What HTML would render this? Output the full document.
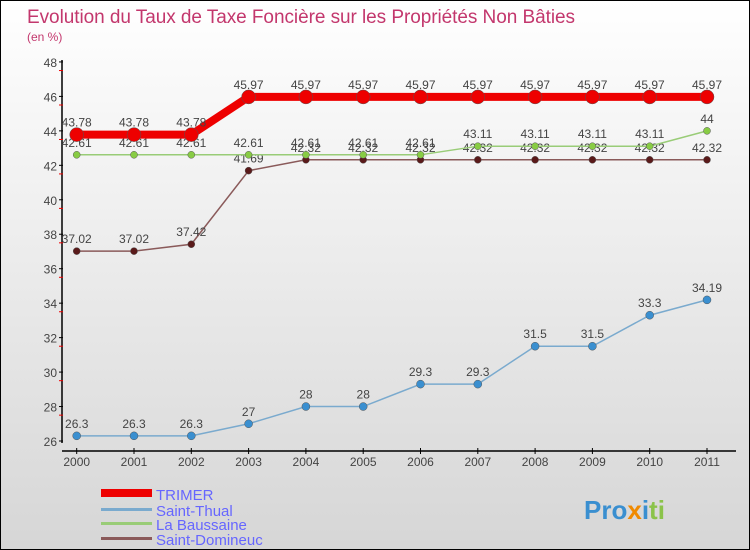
<!DOCTYPE html>
<html><head><meta charset="utf-8"><style>
body{margin:0;}
#c{width:748px;height:548px;border:1px solid #000;position:relative;background:linear-gradient(#fff,#d6d6d6);font-family:"Liberation Sans",sans-serif;overflow:hidden}
</style></head><body>
<div id="c">
<svg id="s" width="748" height="548" xmlns="http://www.w3.org/2000/svg" font-family="Liberation Sans, sans-serif">
<text x="26" y="22" font-size="19" fill="#c3376d" textLength="548">Evolution du Taux de Taxe Foncière sur les Propriétés Non Bâties</text>
<text x="26" y="40" font-size="12" fill="#c3376d">(en %)</text>
<g id="axes"></g><g id="series"></g>
<g>
<rect x="100" y="488" width="51" height="8" fill="#e00"/>
<text x="155" y="499" font-size="15" fill="#66f">TRIMER</text>
<rect x="100" y="507" width="51" height="3" fill="#7aaace"/>
<text x="155" y="515" font-size="15" fill="#66f">Saint-Thual</text>
<rect x="100" y="521" width="51" height="3" fill="#99cc77"/>
<text x="155" y="529" font-size="15" fill="#66f">La Baussaine</text>
<rect x="100" y="536" width="51" height="3" fill="#8a5a5a"/>
<text x="155" y="544" font-size="15" fill="#66f">Saint-Domineuc</text>
</g>
<text x="583" y="518" font-size="26" font-weight="bold"><tspan fill="#3a8fd0">Pro</tspan><tspan fill="#f08a00">x</tspan><tspan fill="#3a8fd0">i</tspan><tspan fill="#8bc34a">ti</tspan></text>
</svg></div>
<script>
const years=[2000,2001,2002,2003,2004,2005,2006,2007,2008,2009,2010,2011];
const trimer=[43.78,43.78,43.78,45.97,45.97,45.97,45.97,45.97,45.97,45.97,45.97,45.97];
const thual=[26.3,26.3,26.3,27,28,28,29.3,29.3,31.5,31.5,33.3,34.19];
const baussaine=[42.61,42.61,42.61,42.61,42.61,42.61,42.61,43.11,43.11,43.11,43.11,44];
const domineuc=[37.02,37.02,37.42,41.69,42.32,42.32,42.32,42.32,42.32,42.32,42.32,42.32];
const yTicks=[26,28,30,32,34,36,38,40,42,44,46,48];
const NS="http://www.w3.org/2000/svg";
const X=i=>75.7+i*57.3, Y=v=>440-(v-26)*17.23;
function mk(t,a,p){const e=document.createElementNS(NS,t);for(const k in a)e.setAttribute(k,a[k]);p.appendChild(e);return e;}
const ax=document.getElementById('axes'), sg=document.getElementById('series');
let e=mk('line',{x1:61,y1:59,x2:61,y2:442,stroke:'#000','stroke-width':1.5},ax);

e=mk('line',{x1:61,y1:450,x2:735,y2:450,stroke:'#000','stroke-width':1.5},ax);

yTicks.forEach(v=>{const y=Y(v);mk('line',{x1:58,y1:y,x2:62,y2:y,stroke:'#000'},ax);
 mk('line',{x1:58,y1:y+8.6,x2:62,y2:y+8.6,stroke:v>26?'#e00':'none'},ax);
 const t=mk('text',{x:56,y:y+5,'font-size':12,'text-anchor':'end',fill:'#444'},ax);t.textContent=v;
 });
years.forEach((yr,i)=>{const x=X(i);mk('line',{x1:x,y1:447,x2:x,y2:453,stroke:'#000'},ax);
 const t=mk('text',{x:x,y:465,'font-size':12,'text-anchor':'middle',fill:'#444'},ax);t.textContent=yr;
 });
function series(d,name,col,w,r,fill){const g=mk('g',{},sg);
 
 mk('polyline',{points:d.map((v,i)=>X(i)+','+Y(v)).join(' '),fill:'none',stroke:col,'stroke-width':w},g);
 d.forEach((v,i)=>{const c=mk('circle',{cx:X(i),cy:Y(v),r:r,fill:fill,stroke:'#555','stroke-width':0.5},g);
  
  const t=mk('text',{x:X(i),y:Y(v)-8,'font-size':12,'text-anchor':'middle',fill:'#444'},g);
  t.textContent=String(v);
  });}
series(thual,'saint-thual','#7aaace',1.5,4,'#3a8fd0');
series(domineuc,'saint-domineuc','#8a5a5a',1.5,3.5,'#5a1a1a');
series(baussaine,'la-baussaine','#99cc77',1.5,3.5,'#88cc44');
series(trimer,'trimer','#e00',8,7,'#e00');
</script>
</body></html>
